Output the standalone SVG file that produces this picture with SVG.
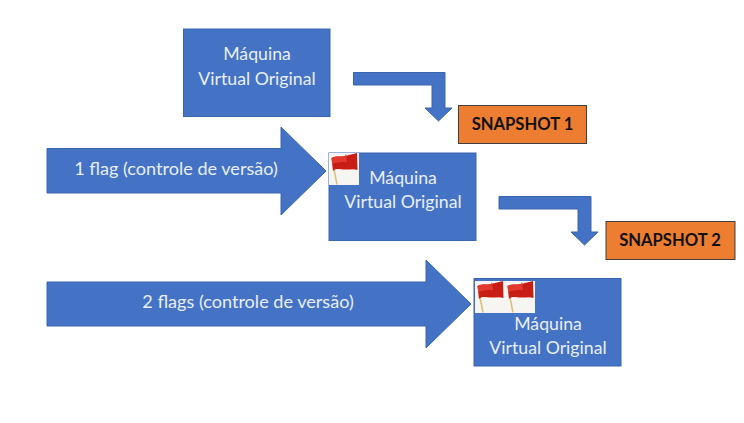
<svg xmlns="http://www.w3.org/2000/svg" xmlns:xlink="http://www.w3.org/1999/xlink" width="744" height="423" viewBox="0 0 744 423">
<style>
.s{fill:#4472c4;stroke:#3a66b0;stroke-width:1}
.t{font-family:"Lato","Open Sans","Liberation Sans",sans-serif;font-size:17.700px;fill:#e9eff9;text-anchor:middle}
.a{font-size:18.100px}
.o{fill:#ed7d31;stroke:#3f3f3f;stroke-width:1}
.b{font-family:"Lato","Liberation Sans",sans-serif;font-size:16.600px;font-weight:700;fill:#111;text-anchor:middle}
</style>
<defs>
<g id="flag">
<rect x="0" y="0" width="30" height="32" fill="#f6f5f2"/>
<path d="M4.500 14L8 31.500" stroke="#d8c27a" stroke-width="1.600" fill="none"/>
<path d="M2.500 5C7 2.500 12 4 16 3C20 2 24 1 28 0L28.500 17C24 15.500 20 17 15 16.500C10 16 6 15.500 4 18Z" fill="#c81d15"/>
<path d="M2.500 5C7 2.500 12 4 16 3L17 1L18 9C13 9 8 9 3.200 11Z" fill="#e2392e"/>
</g>
</defs>
<rect width="744" height="423" fill="#fff"/>
<g id="connectors">
<path class="s" d="M353.500 72.500H445V108H452L438.500 121L425 108H432V85H353.500Z"/>
<path class="s" d="M499 196.500H591V232H598L584.500 245L571 232H578V209H499Z"/>
</g>
<g id="arrow-1-flag">
<path class="s" d="M47 148.500H281V127L326 171L281 215V193H47Z"/>
<text class="t a" x="176" y="175">1 flag (controle de versão)</text>
</g>
<g id="arrow-2-flags">
<path class="s" d="M47 282H426V260L471 304L426 348V326H47Z"/>
<text class="t a" x="248" y="308">2 flags (controle de versão)</text>
</g>
<g id="vm-original">
<rect class="s" x="183.500" y="29" width="146.500" height="87.500"/>
<text class="t" x="257" y="60">Máquina</text>
<text class="t" x="257" y="85">Virtual Original</text>
</g>
<g id="snapshot-1">
<rect class="o" x="458.500" y="105.500" width="128" height="38"/>
<text class="b" x="522.500" y="130">SNAPSHOT 1</text>
</g>
<g id="vm-1-flag">
<rect class="s" x="329" y="153" width="147" height="87.500"/>
<use xlink:href="#flag" href="#flag" x="329" y="153"/>
<text class="t" x="403" y="184">Máquina</text>
<text class="t" x="403" y="208">Virtual Original</text>
</g>
<g id="snapshot-2">
<rect class="o" x="606" y="221.500" width="129" height="38"/>
<text class="b" x="670" y="246">SNAPSHOT 2</text>
</g>
<g id="vm-2-flags">
<rect class="s" x="474" y="278.500" width="147" height="87.500"/>
<use xlink:href="#flag" href="#flag" x="475" y="281"/>
<use xlink:href="#flag" href="#flag" x="505" y="281"/>
<text class="t" x="548" y="330">Máquina</text>
<text class="t" x="548" y="354">Virtual Original</text>
</g>
</svg>
